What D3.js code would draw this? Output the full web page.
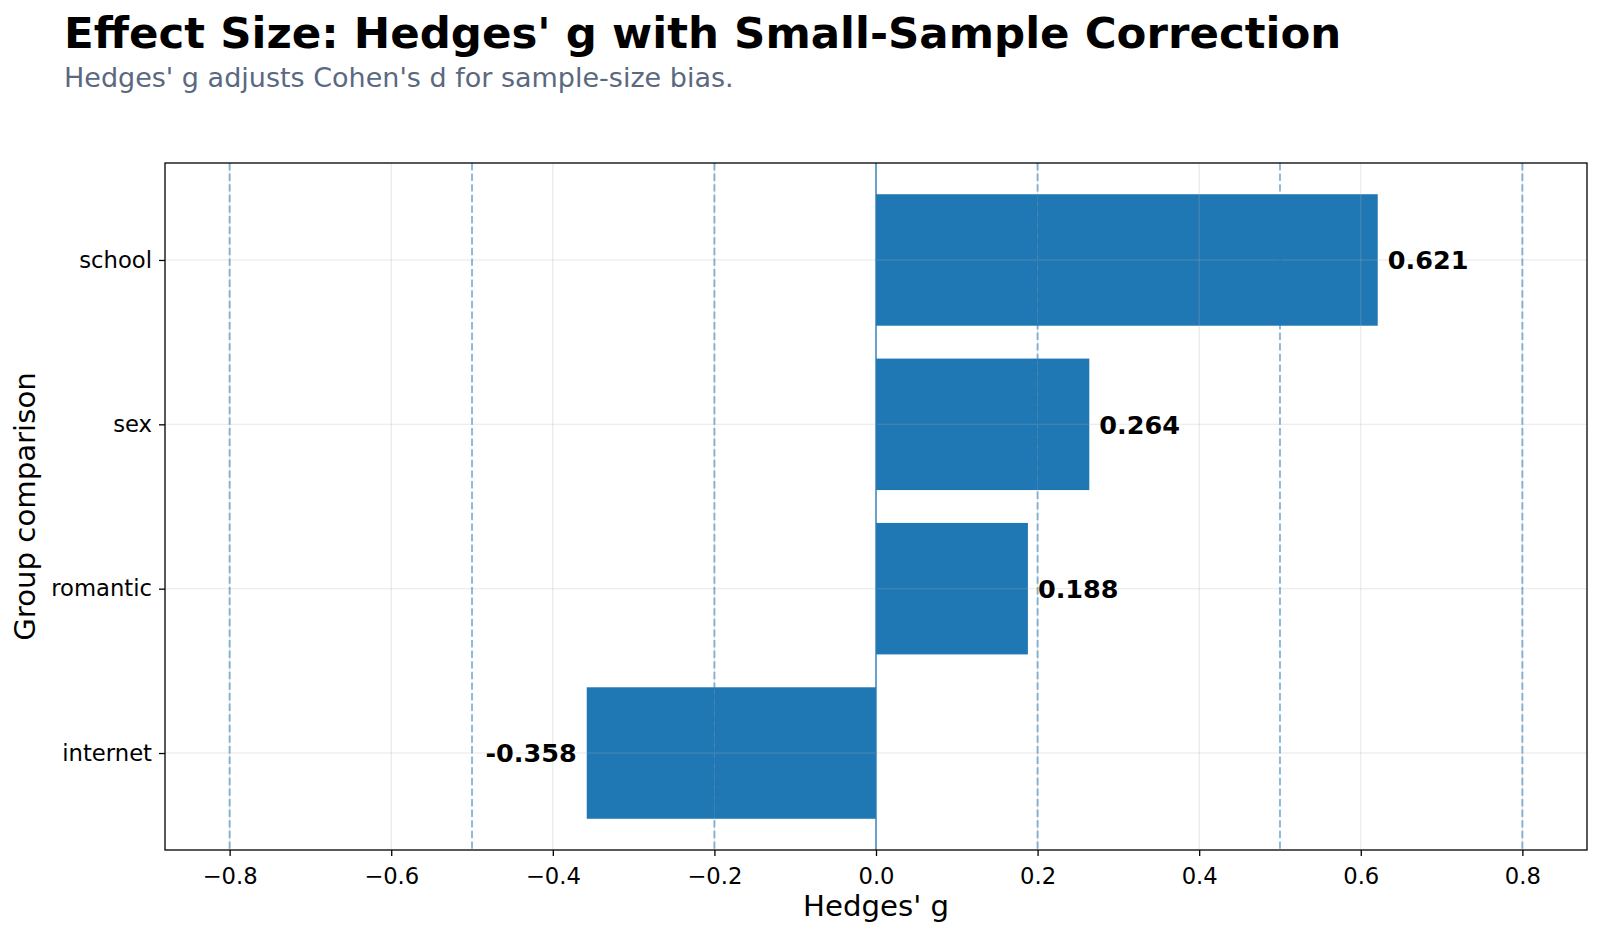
<!DOCTYPE html>
<html>
<head>
<meta charset="utf-8">
<script src="https://cdn.jsdelivr.net/npm/d3@7"></script>
<style>
  html, body { margin: 0; padding: 0; background: #ffffff; }
  svg { display: block; font-family: "DejaVu Sans", sans-serif; }
</style>
</head>
<body>
<svg id="chart" width="1600" height="934"></svg>
<script>
// Data (top to bottom)
const groups = ['school', 'sex', 'romantic', 'internet'];
const hedgesG = [0.621, 0.264, 0.188, -0.358];
const xTicks = [-0.8, -0.6, -0.4, -0.2, 0.0, 0.2, 0.4, 0.6, 0.8];
const thresholds = [-0.8, -0.5, -0.2, 0.2, 0.5, 0.8];

const svg = d3.select('#chart');
const width = 1600, height = 934;
const margin = { top: 163, right: 13, bottom: 84, left: 165 };
const plotW = width - margin.left - margin.right;
const plotH = height - margin.top - margin.bottom;

// Title + subtitle
svg.append('text')
    .attr('x', 64).attr('y', 48)
    .style('font-size', '43.5px')
    .style('font-weight', 'bold')
    .style('fill', '#000')
    .text("Effect Size: Hedges' g with Small-Sample Correction");

svg.append('text')
    .attr('x', 64).attr('y', 87)
    .style('font-size', '27px')
    .style('fill', '#5a6880')
    .text("Hedges' g adjusts Cohen's d for sample-size bias.");

const g = svg.append('g')
    .attr('transform', `translate(${margin.left},${margin.top})`);

// Scales: bars sit at integer positions, bottom one at 0
const n = groups.length;
const x = d3.scaleLinear().domain([-0.88, 0.88]).range([0, plotW]);
const y = d3.scaleLinear().domain([-0.59, n - 1 + 0.59]).range([plotH, 0]);
const yPos = i => y(n - 1 - i);
const barH = y(0) - y(0.8);

const bars = groups.map((name, i) => ({ name, value: hedgesG[i], i }));

// Bars
g.append('g')
    .selectAll('rect')
    .data(bars)
    .enter().append('rect')
    .attr('x', d => x(Math.min(0, d.value)))
    .attr('width', d => Math.abs(x(d.value) - x(0)))
    .attr('y', d => yPos(d.i) - barH / 2)
    .attr('height', barH)
    .attr('fill', '#1f77b4');

// Grid (drawn above the bars, semi-transparent)
const grid = g.append('g').attr('class', 'grid');
grid.selectAll('line.vx')
    .data(xTicks)
    .enter().append('line')
    .attr('x1', d => x(d)).attr('x2', d => x(d))
    .attr('y1', 0).attr('y2', plotH)
    .attr('stroke', '#b0b0b0')
    .attr('stroke-opacity', 0.3)
    .attr('stroke-width', 1.1);
grid.selectAll('line.hy')
    .data(bars)
    .enter().append('line')
    .attr('x1', 0).attr('x2', plotW)
    .attr('y1', d => yPos(d.i)).attr('y2', d => yPos(d.i))
    .attr('stroke', '#b0b0b0')
    .attr('stroke-opacity', 0.3)
    .attr('stroke-width', 1.1);

// Reference thresholds (dashed)
g.append('g')
    .selectAll('line')
    .data(thresholds)
    .enter().append('line')
    .attr('x1', d => x(d)).attr('x2', d => x(d))
    .attr('y1', 0).attr('y2', plotH)
    .attr('stroke', '#1f77b4')
    .attr('stroke-opacity', 0.5)
    .attr('stroke-width', 2)
    .attr('stroke-dasharray', '7.4,3.2');

// Zero line
g.append('line')
    .attr('x1', x(0)).attr('x2', x(0))
    .attr('y1', 0).attr('y2', plotH)
    .attr('stroke', '#1f77b4')
    .attr('stroke-width', 1.3);

// Value labels
g.append('g')
    .selectAll('text')
    .data(bars)
    .enter().append('text')
    .attr('x', d => d.value >= 0 ? x(d.value) + 10 : x(d.value) - 10)
    .attr('y', d => yPos(d.i))
    .attr('dy', '0.36em')
    .attr('text-anchor', d => d.value >= 0 ? 'start' : 'end')
    .style('font-size', '25.5px')
    .style('font-weight', 'bold')
    .style('fill', '#000')
    .text(d => d.value.toFixed(3));

// Axes
const fmt = d => (d < 0 ? '\u2212' : '') + Math.abs(d).toFixed(1);
const xAxis = g.append('g')
    .attr('transform', `translate(0,${plotH})`)
    .call(d3.axisBottom(x).tickValues(xTicks).tickFormat(fmt).tickSize(6).tickPadding(12));
const yAxis = g.append('g')
    .call(d3.axisLeft(y).tickValues(bars.map(d => n - 1 - d.i))
        .tickFormat(v => groups[n - 1 - v]).tickSize(6).tickPadding(7));

[xAxis, yAxis].forEach(ax => {
    ax.select('.domain').remove();
    ax.selectAll('line').attr('stroke', '#000').attr('stroke-width', 1.3);
    ax.selectAll('text')
        .style('font-family', '"DejaVu Sans", sans-serif')
        .style('font-size', '22.7px')
        .style('fill', '#000');
});

// Frame
g.append('rect')
    .attr('x', 0).attr('y', 0)
    .attr('width', plotW).attr('height', plotH)
    .attr('fill', 'none')
    .attr('stroke', '#000')
    .attr('stroke-width', 1.3);

// Axis titles
svg.append('text')
    .attr('x', margin.left + x(0))
    .attr('y', 916)
    .attr('text-anchor', 'middle')
    .style('font-size', '29.2px')
    .style('fill', '#000')
    .text("Hedges' g");

svg.append('text')
    .attr('transform', `translate(35,${margin.top + plotH / 2}) rotate(-90)`)
    .attr('text-anchor', 'middle')
    .style('font-size', '29.2px')
    .style('fill', '#000')
    .text('Group comparison');
</script>
</body>
</html>
